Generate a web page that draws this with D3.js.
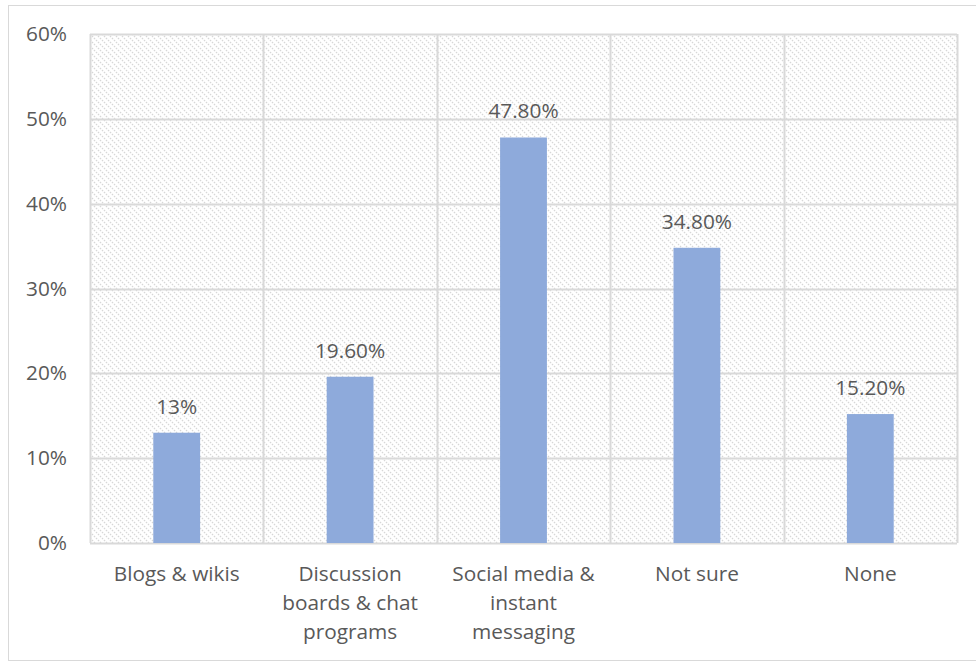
<!DOCTYPE html>
<html>
<head>
<meta charset="utf-8">
<script src="https://cdn.jsdelivr.net/npm/d3@7"></script>
<style>
  html, body { margin: 0; padding: 0; background: #fff; }
  svg { display: block; }
  text { font-family: "Open Sans", sans-serif; fill: #595959; }
</style>
</head>
<body>
<svg id="chart" width="976" height="662"></svg>
<script>
// Share of respondents by communication channel
const categories = [
  ["Blogs & wikis"],
  ["Discussion", "boards & chat", "programs"],
  ["Social media &", "instant", "messaging"],
  ["Not sure"],
  ["None"]
];
const values = [13, 19.6, 47.8, 34.8, 15.2];
const valueLabels = ["13%", "19.60%", "47.80%", "34.80%", "15.20%"];
const yTicks = [0, 10, 20, 30, 40, 50, 60];

const svg = d3.select("#chart");
const margin = { left: 90, right: 19, top: 34, bottom: 119 };
const W = 976, H = 662;
const plotW = W - margin.left - margin.right;
const plotH = H - margin.top - margin.bottom;
const FONT = 20.8;

// Outer chart frame
svg.append("rect")
  .attr("x", 8.5).attr("y", 5.5)
  .attr("width", 975).attr("height", 655)
  .attr("fill", "#fff").attr("stroke", "#d9d9d9").attr("stroke-width", 1);

// Light downward diagonal hatch for the plot background
const defs = svg.append("defs");
const P = 6;
const pat = defs.append("pattern")
  .attr("id", "hatch").attr("patternUnits", "userSpaceOnUse")
  .attr("width", P).attr("height", P);
pat.append("path")
  .attr("d", `M${-P},${-P} L${2 * P},${2 * P} M${-P},0 L${P},${2 * P} M0,${-P} L${2 * P},${P}`)
  .attr("stroke", "#d6d6d6").attr("stroke-width", 1.2)
  .attr("stroke-dasharray", "1.7,1.1");

const g = svg.append("g").attr("transform", `translate(${margin.left},${margin.top})`);

const x = d3.scaleBand().domain(d3.range(categories.length)).range([0, plotW]).paddingInner(0).paddingOuter(0);
const y = d3.scaleLinear().domain([0, 60]).range([plotH, 0]);

g.append("rect").attr("width", plotW).attr("height", plotH).attr("fill", "url(#hatch)");

// Horizontal gridlines
g.selectAll(".hgrid").data(yTicks).join("line")
  .attr("x1", 0).attr("x2", plotW)
  .attr("y1", d => Math.round(y(d)) + 0.5).attr("y2", d => Math.round(y(d)) + 0.5)
  .attr("stroke", "#d9d9d9").attr("stroke-width", 2);

// Vertical gridlines at category boundaries
const vb = d3.range(categories.length + 1).map(i => i * x.step());
g.selectAll(".vgrid").data(vb).join("line")
  .attr("x1", d => Math.round(d) + 0.5).attr("x2", d => Math.round(d) + 0.5)
  .attr("y1", 0).attr("y2", plotH)
  .attr("stroke", "#d9d9d9").attr("stroke-width", 2);

// Y axis labels
const yAxis = d3.axisLeft(y).tickValues(yTicks).tickFormat(d => d + "%").tickSize(0).tickPadding(23);
const ya = g.append("g").call(yAxis);
ya.select(".domain").remove();
ya.selectAll("text").attr("font-size", FONT).style("fill", "#595959")
  .attr("font-family", "'Open Sans', sans-serif");

// Bars
const barW = x.bandwidth() * 0.27;
g.selectAll(".bar").data(values).join("rect")
  .attr("x", (d, i) => x(i) + x.bandwidth() / 2 - barW / 2)
  .attr("y", d => y(d))
  .attr("width", barW)
  .attr("height", d => y(0) - y(d))
  .attr("fill", "#8eaadb");

// Value labels
g.selectAll(".val").data(values).join("text")
  .attr("x", (d, i) => x(i) + x.bandwidth() / 2)
  .attr("y", d => y(d) - 19)
  .attr("text-anchor", "middle")
  .attr("font-size", FONT)
  .text((d, i) => valueLabels[i]);

// Category labels
const cat = g.selectAll(".cat").data(categories).join("text")
  .attr("text-anchor", "middle")
  .attr("font-size", FONT)
  .attr("transform", (d, i) => `translate(${x(i) + x.bandwidth() / 2},${plotH + 38})`);
cat.selectAll("tspan").data(d => d).join("tspan")
  .attr("x", 0).attr("dy", (d, j) => j === 0 ? 0 : 29)
  .text(d => d);
</script>
</body>
</html>
